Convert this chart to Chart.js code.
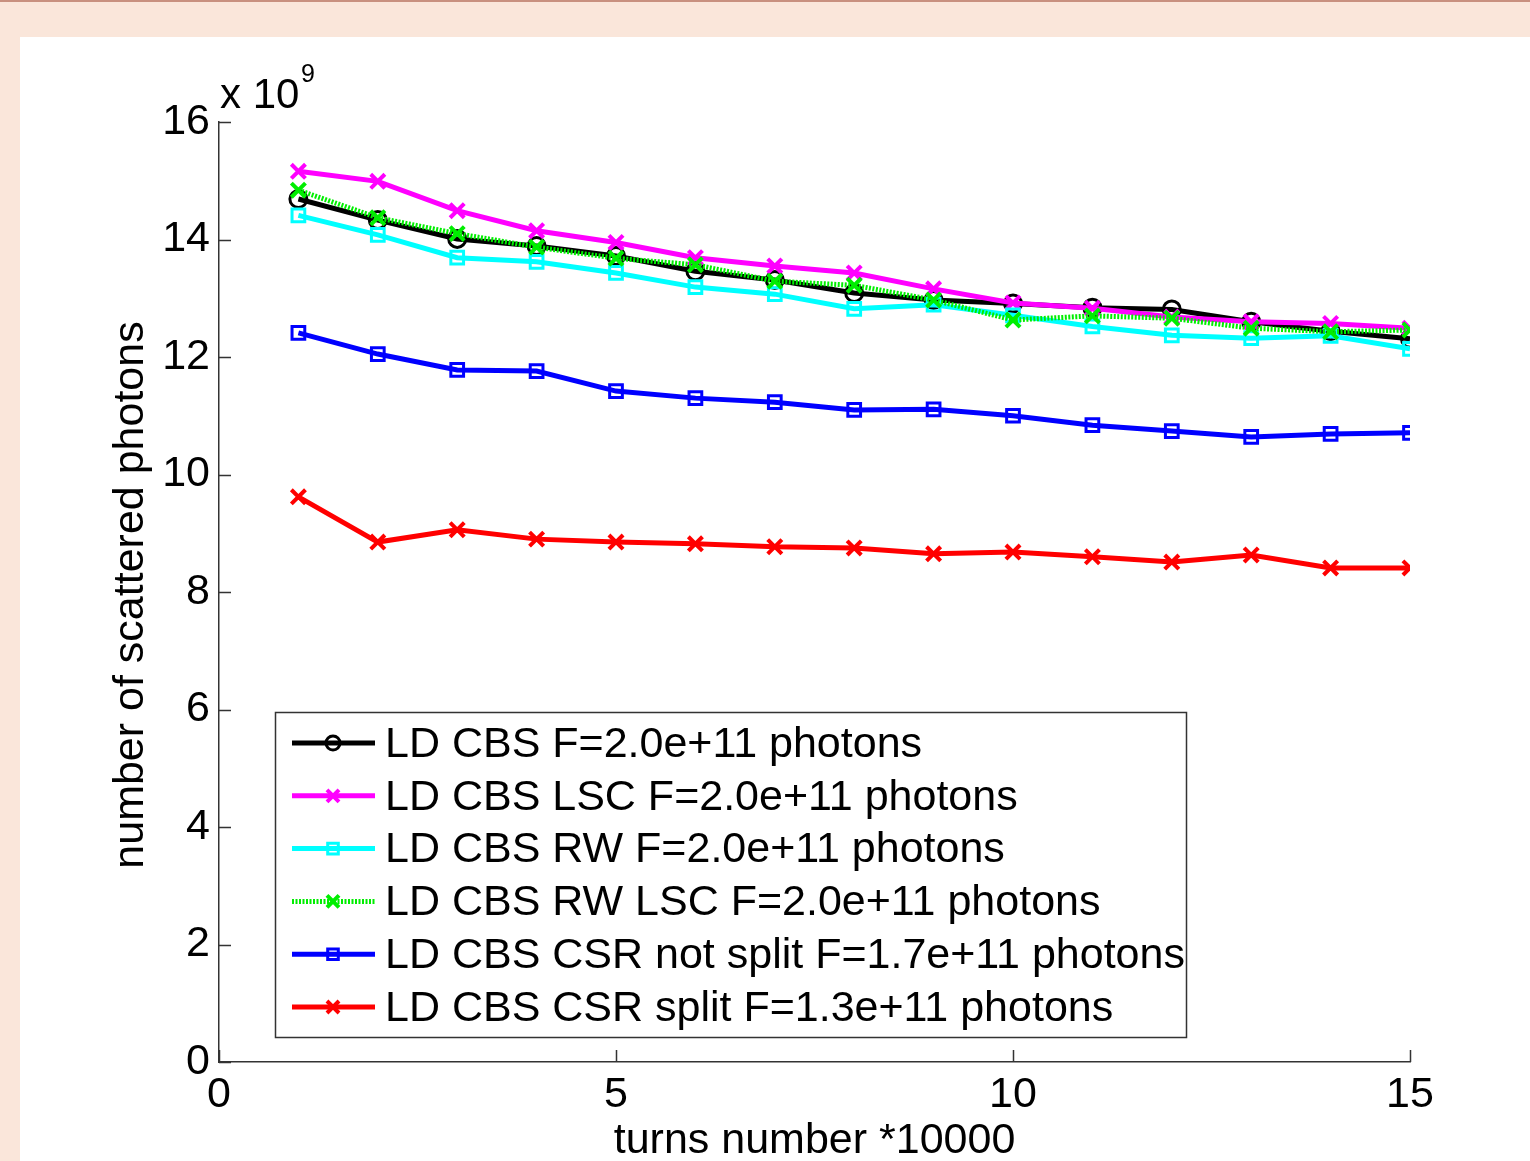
<!DOCTYPE html>
<html>
<head>
<meta charset="utf-8">
<script src="https://cdn.jsdelivr.net/npm/chart.js@4.4.0/dist/chart.umd.min.js"></script>
<style>
  body { margin: 0; background: #fae6da; }
  #frame { position: absolute; left: 0; top: 0; width: 1530px; height: 1161px; border-top: 2px solid #c8907f; box-sizing: border-box; }
  #panel { position: absolute; left: 20px; top: 35px; right: 0; bottom: 0; background: #fff; }
  canvas { position: absolute; left: 0; top: 0; }
</style>
</head>
<body>
<div id="frame"><div id="panel"></div></div>
<canvas id="photons" width="1530" height="1161"></canvas>
<script>
// turns (x 10000) and scattered photon counts (x 1e9)
const turns = [1, 2, 3, 4, 5, 6, 7, 8, 9, 10, 11, 12, 13, 14, 15];
const ldCbs = [14.69, 14.33, 14.01, 13.89, 13.72, 13.46, 13.31, 13.09, 12.97, 12.91, 12.84, 12.81, 12.60, 12.44, 12.31];
const ldCbsLsc = [15.16, 14.99, 14.49, 14.15, 13.95, 13.69, 13.55, 13.43, 13.16, 12.92, 12.83, 12.68, 12.60, 12.57, 12.49];
const ldCbsRw = [14.41, 14.08, 13.69, 13.62, 13.43, 13.19, 13.07, 12.82, 12.89, 12.71, 12.52, 12.37, 12.32, 12.36, 12.14];
const ldCbsRwLsc = [14.84, 14.37, 14.10, 13.87, 13.68, 13.57, 13.29, 13.22, 12.97, 12.63, 12.70, 12.66, 12.49, 12.43, 12.46];
const csrNotSplit = [12.41, 12.05, 11.78, 11.76, 11.42, 11.30, 11.23, 11.10, 11.11, 11.00, 10.84, 10.74, 10.64, 10.69, 10.71];
const csrSplit = [9.62, 8.85, 9.06, 8.90, 8.85, 8.82, 8.77, 8.75, 8.65, 8.68, 8.60, 8.51, 8.63, 8.41, 8.41];

const seriesNames = [
    "LD CBS F=2.0e+11 photons",
    "LD CBS LSC F=2.0e+11 photons",
    "LD CBS RW F=2.0e+11 photons",
    "LD CBS RW LSC F=2.0e+11 photons",
    "LD CBS CSR not split F=1.7e+11 photons",
    "LD CBS CSR split F=1.3e+11 photons"
];
const xTicks = [0, 5, 10, 15];
const yTicks = [0, 2, 4, 6, 8, 10, 12, 14, 16];

const FONT = "Liberation Sans, Arial, Helvetica, sans-serif";
const FS = 43;
const AXIS = "#333";

const markerSize = {circle: 8.5, rect: 9, crossRot: 10};

function series(i, values, color, style, extra) {
    return Object.assign({
        label: seriesNames[i],
        data: values,
        borderColor: color,
        backgroundColor: "transparent",
        borderWidth: 5,
        pointStyle: style,
        pointRadius: markerSize[style],
        pointBorderWidth: style === "crossRot" ? 4 : 3,
        pointBorderColor: color,
        pointBackgroundColor: "transparent",
        tension: 0,
        fill: false,
        order: 10 - i   // later series on top
    }, extra || {});
}

// inward ticks, legend box and axis annotations
const decorations = {
    id: "decorations",
    afterDraw(chart) {
        const ctx = chart.ctx;
        const ca = chart.chartArea;
        const xs = chart.scales.x, ys = chart.scales.y;
        ctx.save();

        ctx.strokeStyle = AXIS;
        ctx.lineWidth = 1.5;
        ctx.beginPath();
        yTicks.forEach(v => {
            const y = Math.round(ys.getPixelForValue(v)) + 0.5;
            ctx.moveTo(ca.left, y);
            ctx.lineTo(ca.left + 12, y);
        });
        xTicks.forEach(v => {
            const x = Math.round(xs.getPixelForValue(v)) + 0.5;
            ctx.moveTo(x, ca.bottom);
            ctx.lineTo(x, ca.bottom - 12);
        });
        ctx.stroke();

        // exponent above the y axis
        ctx.fillStyle = "#000";
        ctx.textAlign = "left";
        ctx.textBaseline = "alphabetic";
        ctx.font = "42px " + FONT;
        ctx.fillText("x 10", ca.left + 1, ca.top - 14);
        ctx.font = "25px " + FONT;
        ctx.fillText("9", ca.left + 82, ca.top - 40);

        // axis titles
        ctx.font = FS + "px " + FONT;
        ctx.textAlign = "center";
        ctx.fillText("turns number *10000", (ca.left + ca.right) / 2, chart.height - 8);
        ctx.save();
        ctx.translate(ca.left - 76, (ca.top + ca.bottom) / 2 + 3);
        ctx.rotate(-Math.PI / 2);
        ctx.fillText("number of scattered photons", 0, 0);
        ctx.restore();

        // legend
        const bx = ca.left + 56, by = ca.top + 590, bw = 911, bh = 325;
        ctx.fillStyle = "#fff";
        ctx.fillRect(bx, by, bw, bh);
        ctx.strokeStyle = AXIS;
        ctx.lineWidth = 1.5;
        ctx.strokeRect(bx + 0.5, by + 0.5, bw, bh);
        chart.data.datasets.forEach((ds, i) => {
            const cy = by + 31 + i * 52.8;
            ctx.save();
            ctx.strokeStyle = ds.borderColor;
            ctx.lineWidth = ds.borderWidth;
            ctx.setLineDash(ds.borderDash || []);
            ctx.beginPath();
            ctx.moveTo(bx + 17, cy);
            ctx.lineTo(bx + 100, cy);
            ctx.stroke();
            ctx.setLineDash([]);
            ctx.strokeStyle = ds.pointBorderColor;
            ctx.fillStyle = "transparent";
            ctx.lineWidth = ds.pointBorderWidth;
            Chart.helpers.drawPoint(ctx, {
                pointStyle: ds.pointStyle,
                radius: ds.pointRadius - 1.5,
                borderWidth: ds.pointBorderWidth,
                rotation: 0
            }, bx + 58, cy);
            ctx.restore();
            ctx.fillStyle = "#000";
            ctx.font = FS + "px " + FONT;
            ctx.textAlign = "left";
            ctx.textBaseline = "middle";
            ctx.fillText(ds.label, bx + 110, cy + 2);
        });
        ctx.restore();
    }
};

new Chart(document.getElementById("photons").getContext("2d"), {
    type: "line",
    data: {
        labels: turns,
        datasets: [
            series(0, ldCbs, "#000000", "circle"),
            series(1, ldCbsLsc, "#ff00ff", "crossRot"),
            series(2, ldCbsRw, "#00ffff", "rect"),
            series(3, ldCbsRwLsc, "#00ee00", "crossRot", {borderDash: [2, 1.5]}),
            series(4, csrNotSplit, "#0000ff", "rect"),
            series(5, csrSplit, "#ff0000", "crossRot")
        ]
    },
    options: {
        responsive: false,
        animation: false,
        layout: {padding: {top: 122, right: 120, left: 0, bottom: 0}},
        scales: {
            x: {
                type: "linear",
                min: 0,
                max: 15,
                afterFit: s => { s.height = 99; },
                afterBuildTicks: s => { s.ticks = xTicks.map(v => ({value: v})); },
                grid: {display: false, drawTicks: false, tickLength: 0},
                border: {display: true, color: AXIS, width: 1.5},
                ticks: {color: "#000", font: {family: FONT, size: FS}, padding: 7, maxRotation: 0}
            },
            y: {
                min: 0,
                max: 16,
                afterFit: s => { s.width = 219; },
                afterBuildTicks: s => { s.ticks = yTicks.map(v => ({value: v})); },
                grid: {display: false, drawTicks: false, tickLength: 0},
                border: {display: true, color: AXIS, width: 1.5},
                ticks: {color: "#000", font: {family: FONT, size: FS}, padding: 9}
            }
        },
        plugins: {
            legend: {display: false},
            tooltip: {enabled: false}
        }
    },
    plugins: [decorations]
});
</script>
</body>
</html>
